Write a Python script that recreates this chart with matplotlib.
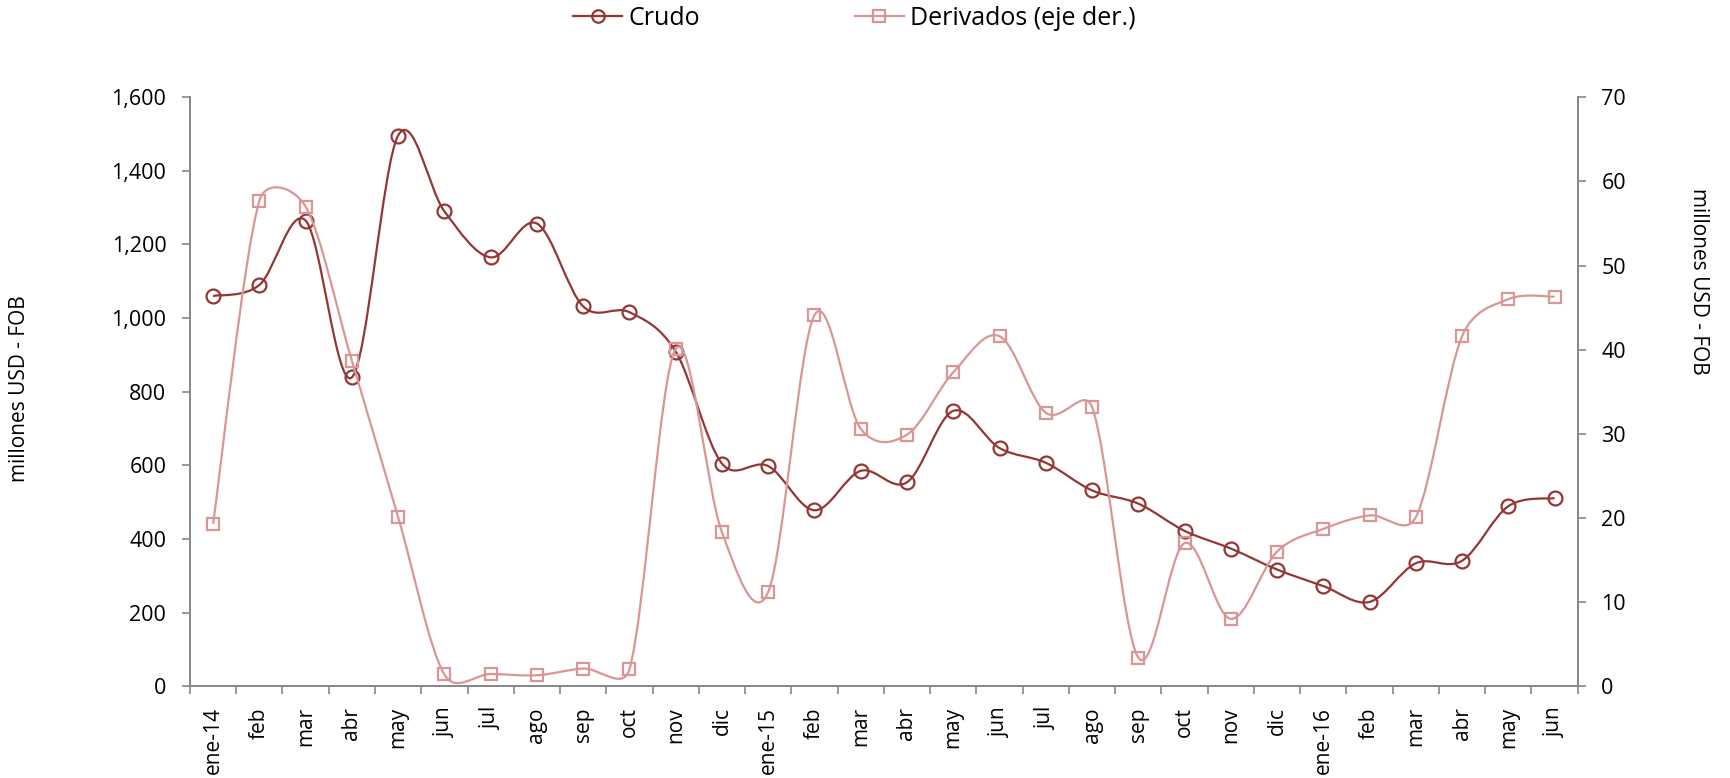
import matplotlib
matplotlib.use("Agg")
import matplotlib.pyplot as plt
import numpy as np
from matplotlib.lines import Line2D
from matplotlib.path import Path
from matplotlib.patches import PathPatch

months = ["ene-14", "feb", "mar", "abr", "may", "jun", "jul", "ago", "sep", "oct",
          "nov", "dic", "ene-15", "feb", "mar", "abr", "may", "jun", "jul", "ago",
          "sep", "oct", "nov", "dic", "ene-16", "feb", "mar", "abr", "may", "jun"]
crudo = [1060, 1090, 1265, 839, 1496, 1290, 1165, 1257, 1032, 1016,
         909, 605, 598, 478, 585, 554, 748, 647, 607, 532,
         496, 422, 374, 317, 272, 229, 334, 341, 489, 511]
derivados = [19.3, 57.7, 57.0, 38.7, 20.1, 1.4, 1.45, 1.3, 2.1, 2.0,
             40.1, 18.3, 11.2, 44.1, 30.6, 29.9, 37.3, 41.6, 32.5, 33.2,
             3.4, 17.0, 8.0, 16.0, 18.7, 20.3, 20.1, 41.6, 46.0, 46.3]

C_CRUDO = "#943634"
C_DERIV = "#D99694"
GRAY = "#868686"
FONT = "Open Sans"


def smooth_path(ax, x, y):
    # Smoothed line like Excel's: Catmull-Rom Bezier handles in screen
    # space, capped at half the adjacent chord to keep overshoot small.
    pts = ax.transData.transform(np.column_stack([x, y]).astype(float))
    n = len(pts)
    tang = np.zeros_like(pts)
    for i in range(n):
        a = pts[max(i - 1, 0)]
        b = pts[min(i + 1, n - 1)]
        tang[i] = b - a
    verts = [pts[0]]
    codes = [Path.MOVETO]
    for i in range(n - 1):
        chord = np.hypot(*(pts[i + 1] - pts[i]))
        h1 = tang[i] / 6.0
        h2 = tang[i + 1] / 6.0
        l1, l2 = np.hypot(*h1), np.hypot(*h2)
        if l1 > chord / 2:
            h1 = h1 * (chord / 2) / l1
        if l2 > chord / 2:
            h2 = h2 * (chord / 2) / l2
        verts += [pts[i] + h1, pts[i + 1] - h2, pts[i + 1]]
        codes += [Path.CURVE4] * 3
    verts = ax.transData.inverted().transform(np.array(verts))
    return Path(verts, codes)


x = np.arange(len(months))

fig = plt.figure(figsize=(17.3, 7.78), dpi=100)
ax = fig.add_axes([0.1098, 0.118, 0.8022, 0.757])
ax2 = ax.twinx()

ax.set_xlim(-0.5, len(months) - 0.5)
ax.set_ylim(0, 1600)
ax2.set_ylim(0, 70)

ax.add_patch(PathPatch(smooth_path(ax, x, crudo), facecolor="none",
                       edgecolor=C_CRUDO, lw=1.6, zorder=3))
ax.plot(x, crudo, ls="none", marker="o", ms=10, mfc="none", mec=C_CRUDO,
        mew=1.6, zorder=4)

ax2.add_patch(PathPatch(smooth_path(ax2, x, derivados), facecolor="none",
                        edgecolor=C_DERIV, lw=1.6, zorder=3))
ax2.plot(x, derivados, ls="none", marker="s", ms=9, mfc="none", mec=C_DERIV,
         mew=1.6, zorder=4)

ax.set_yticks(range(0, 1601, 200))
ax.set_yticklabels([f"{v:,}" for v in range(0, 1601, 200)])
ax2.set_yticks(range(0, 71, 10))

ax.set_xticks(x)
ax.set_xticklabels(months, rotation=90)
ax.set_xticks(np.arange(-0.5, len(months), 1.0), minor=True)
ax.tick_params(axis="x", which="major", length=0, pad=15)
ax.tick_params(axis="x", which="minor", length=6, color=GRAY, width=1.2)

for a in (ax, ax2):
    for s in a.spines.values():
        s.set_color(GRAY)
        s.set_linewidth(1.2)
    a.spines["top"].set_visible(False)
    a.tick_params(axis="y", length=5.5, color=GRAY, width=1.2, labelsize=15.5,
                  pad=11.5)
    for lab in a.get_yticklabels():
        lab.set_fontfamily(FONT)
for lab in ax.get_xticklabels():
    lab.set_fontfamily(FONT)
    lab.set_fontsize(15)

fig.text(0.0113, 0.501, "millones USD - FOB", rotation=90, va="center",
         ha="center", fontsize=15, family=FONT)
fig.text(0.9817, 0.638, "millones USD - FOB", rotation=-90, va="center",
         ha="center", fontsize=15, family=FONT)

handles = [
    Line2D([], [], color=C_CRUDO, lw=1.6, marker="o", ms=9, mfc="none", mew=1.6),
    Line2D([], [], color=C_DERIV, lw=1.6, marker="s", ms=8, mfc="none", mew=1.6),
]
fig.legend(handles, ["Crudo", "Derivados (eje der.)"], loc="center",
           bbox_to_anchor=(0.494, 0.976), ncol=2, frameon=False,
           prop={"family": FONT, "size": 18}, handlelength=1.95,
           handletextpad=0.25, columnspacing=6.2, borderpad=0)

fig.savefig("out.png", dpi=100)
